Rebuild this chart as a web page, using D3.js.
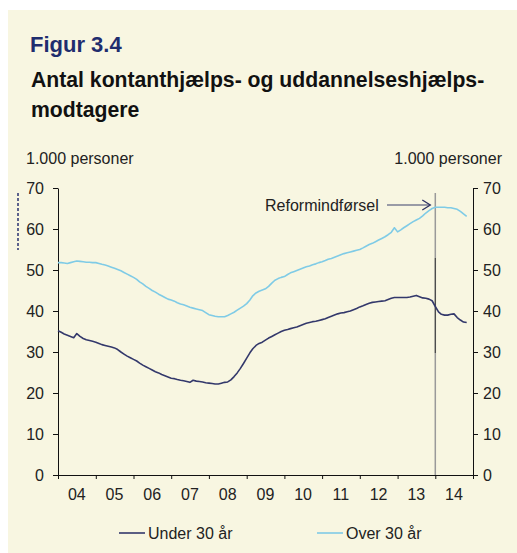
<!DOCTYPE html>
<html>
<head>
<meta charset="utf-8">
<script src="https://cdn.jsdelivr.net/npm/d3@7"></script>
<style>
  body { margin: 0; background: #fff; }
  svg { display: block; font-family: "Liberation Sans", Arial, sans-serif; }
</style>
</head>
<body>
<svg id="chart"></svg>
<script>
const w = 517;
const h = 553;

// monthly values, Jan 2004 onwards (1.000 personer)
const under30 = [
  35.2, 34.8, 34.4, 34.1, 33.8, 33.5, 34.5, 33.8, 33.3, 33.0, 32.8, 32.6,
  32.4, 32.1, 31.8, 31.6, 31.4, 31.2, 31.0, 30.6, 30.0, 29.5, 29.0, 28.6,
  28.2, 27.8, 27.3, 26.8, 26.4, 26.0, 25.6, 25.2, 24.9, 24.5, 24.2, 23.9,
  23.6, 23.5, 23.3, 23.1, 23.0, 22.8, 22.6, 23.1, 22.9, 22.8, 22.7, 22.5,
  22.4, 22.3, 22.2, 22.2, 22.4, 22.6, 22.7, 23.2, 24.0, 24.9, 26.0, 27.2,
  28.5, 29.8, 30.8, 31.6, 32.1, 32.4, 32.9, 33.4, 33.8, 34.2, 34.6, 35.0,
  35.3, 35.5, 35.7, 35.9, 36.1, 36.4, 36.7, 37.0, 37.2, 37.4, 37.5, 37.7,
  37.9, 38.1, 38.4, 38.7, 39.0, 39.3, 39.5, 39.6, 39.8, 40.0, 40.3, 40.6,
  41.0, 41.3, 41.6, 41.9, 42.1, 42.2, 42.3, 42.4, 42.5, 42.8, 43.1, 43.3,
  43.3, 43.3, 43.3, 43.3, 43.4, 43.6, 43.8, 43.5, 43.2, 43.1, 42.9, 42.5,
  41.1, 39.8, 39.2, 39.0, 39.0, 39.2, 39.3, 38.4, 37.8, 37.3, 37.2
];

const over30 = [
  51.8, 51.8, 51.7, 51.6, 51.8, 52.0, 52.2, 52.1, 52.0, 51.9, 51.9, 51.8,
  51.8, 51.6, 51.4, 51.2, 51.0, 50.7, 50.4, 50.1, 49.8, 49.4, 49.0, 48.6,
  48.2, 47.7, 47.1, 46.6, 46.0, 45.5, 45.0, 44.6, 44.1, 43.7, 43.3, 42.9,
  42.7, 42.4, 42.0, 41.7, 41.5, 41.2, 40.9, 40.7, 40.5, 40.3, 40.1, 39.6,
  39.1, 38.9, 38.7, 38.6, 38.6, 38.6, 38.9, 39.3, 39.7, 40.2, 40.7, 41.2,
  41.8, 42.7, 43.7, 44.4, 44.8, 45.1, 45.4, 46.0, 46.8, 47.5, 47.9, 48.2,
  48.4, 48.9, 49.3, 49.6, 49.9, 50.2, 50.5, 50.8, 51.0, 51.3, 51.5, 51.8,
  52.0, 52.3, 52.6, 52.8, 53.1, 53.4, 53.7, 54.0, 54.2, 54.4, 54.6, 54.8,
  55.0, 55.4, 55.8, 56.2, 56.5, 56.9, 57.3, 57.7, 58.1, 58.6, 59.2, 60.3,
  59.3, 59.8, 60.3, 60.8, 61.3, 61.8, 62.2, 62.6, 63.2, 63.9, 64.5, 65.0,
  65.3, 65.3, 65.3, 65.3, 65.2, 65.2, 65.0, 64.8, 64.3, 63.7, 63.1
];

const yearLabels = ['04', '05', '06', '07', '08', '09', '10', '11', '12', '13', '14'];
const yTicks = [0, 10, 20, 30, 40, 50, 60, 70];
const seriesNames = ['Under 30 år', 'Over 30 år'];
const reformDate = new Date(2014, 0, 1);

const colors = ['#33386b', '#7fcbe6'];

const svg = d3.select('#chart').attr('width', w).attr('height', h);

// background panel
svg.append('rect').attr('x', 8).attr('y', 10).attr('width', w - 8).attr('height', h - 10)
  .attr('fill', '#f8f6e1');

// titles
svg.append('text').attr('x', 30).attr('y', 52).text('Figur 3.4')
  .attr('font-size', 22).attr('font-weight', 'bold').attr('fill', '#1f2d6e');
svg.append('text').attr('x', 31).attr('y', 87).text('Antal kontanthjælps- og uddannelseshjælps-')
  .attr('font-size', 21.2).attr('font-weight', 'bold').attr('fill', '#111');
svg.append('text').attr('x', 31).attr('y', 117).text('modtagere')
  .attr('font-size', 21.2).attr('font-weight', 'bold').attr('fill', '#111');

// unit labels
svg.append('text').attr('x', 26).attr('y', 164).text('1.000 personer')
  .attr('font-size', 16).attr('fill', '#222');
svg.append('text').attr('x', 502).attr('y', 164).attr('text-anchor', 'end').text('1.000 personer')
  .attr('font-size', 16).attr('fill', '#222');

// small dotted mark at the left edge
svg.append('line').attr('x1', 18).attr('x2', 18).attr('y1', 193).attr('y2', 250)
  .attr('stroke', '#2a3270').attr('stroke-width', 1.5).attr('stroke-dasharray', '3,2');

////////////////////////
/////// SCALES /////////
////////////////////////

const x = d3.scaleTime()
  .domain([new Date(2004, 0, 1), new Date(2015, 0, 1)])
  .range([58, 473]);

const y = d3.scaleLinear().domain([0, 70]).range([475, 188]);

const dates = under30.map((d, i) => new Date(2004, i, 1));

////////////////////////
/////// AXES ///////////
////////////////////////

const axisFont = (g) => {
  g.selectAll('text').attr('font-size', 16).attr('fill', '#222')
    .attr('font-family', '"Liberation Sans", Arial, sans-serif');
  g.selectAll('line').attr('stroke', '#111');
  g.select('.domain').attr('stroke', '#111');
};

svg.append('g').attr('transform', 'translate(58,0)')
  .call(d3.axisLeft(y).tickValues(yTicks).tickSize(5).tickSizeOuter(0).tickPadding(9))
  .call(axisFont);

svg.append('g').attr('transform', 'translate(473,0)')
  .call(d3.axisRight(y).tickValues(yTicks).tickSize(5).tickSizeOuter(0).tickPadding(5))
  .call(axisFont);

svg.append('g').attr('transform', 'translate(0,475)')
  .call(d3.axisBottom(x).ticks(d3.timeYear.every(1)).tickSize(4).tickSizeOuter(0).tickFormat(''))
  .call(axisFont);

// year labels centred in each year
svg.append('g').selectAll('text').data(yearLabels).join('text')
  .attr('x', (d, i) => x(new Date(2004 + i, 6, 1)))
  .attr('y', 500)
  .attr('text-anchor', 'middle')
  .attr('font-size', 16).attr('fill', '#222')
  .text((d) => d);

////////////////////////
/////// REFORM /////////
////////////////////////

const rx = x(reformDate);
svg.append('line').attr('x1', rx).attr('x2', rx).attr('y1', 193).attr('y2', 475)
  .attr('stroke', '#9a9a9a').attr('stroke-width', 1.5);
svg.append('line').attr('x1', rx).attr('x2', rx).attr('y1', 258).attr('y2', 353)
  .attr('stroke', '#3a3a3a').attr('stroke-width', 1);

////////////////////////
/////// LINES //////////
////////////////////////

const line = d3.line().x((d, i) => x(dates[i])).y((d) => y(d));

[under30, over30].forEach((s, k) => {
  svg.append('path').datum(s)
    .attr('d', line)
    .attr('fill', 'none')
    .attr('stroke', colors[k])
    .attr('stroke-width', 1.6)
    .attr('stroke-linejoin', 'round');
});

// annotation
svg.append('text').attr('x', 265).attr('y', 211).text('Reformindførsel')
  .attr('font-size', 16).attr('fill', '#222');
svg.append('line').attr('x1', 387).attr('x2', rx - 5).attr('y1', 205).attr('y2', 205)
  .attr('stroke', '#7a7d92').attr('stroke-width', 1.3);
svg.append('path')
  .attr('d', `M${rx - 13},200 L${rx - 5},205 L${rx - 13},210`)
  .attr('fill', 'none').attr('stroke', '#2d3163').attr('stroke-width', 1.3);

////////////////////////
/////// LEGEND /////////
////////////////////////

const legendX = [119, 317];
const legend = svg.append('g').selectAll('g').data(seriesNames).join('g')
  .attr('transform', (d, i) => `translate(${legendX[i]},533)`);
legend.append('line').attr('x1', 0).attr('x2', 26).attr('y1', 0).attr('y2', 0)
  .attr('stroke', (d, i) => colors[i]).attr('stroke-width', 1.6);
legend.append('text').attr('x', 29).attr('y', 6).text((d) => d)
  .attr('font-size', 16).attr('fill', '#222');
</script>
</body>
</html>
